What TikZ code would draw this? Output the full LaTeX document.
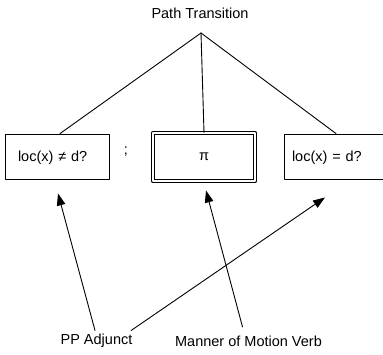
\documentclass[tikz,border=0pt]{standalone}
\usepackage{fontspec}
\setmainfont{Liberation Sans}
\usetikzlibrary{arrows.meta,calc}
\begin{document}
\begin{tikzpicture}[x=1pt,y=-1pt,>={Triangle[length=12pt,width=8.5pt]}, font=\fontsize{14.5}{17}\selectfont, line width=0.9pt, line join=round, line cap=round]
			\tikzset{box/.style={draw, minimum height=45pt, inner ysep=0pt, text height=12pt, text depth=2pt, align=left}}
			\useasboundingbox (0,0) rectangle (383,354);
			% Kopf
			\node (title) at (200,13) {Path Transition};
			\coordinate (apex) at (201,33);
			% Kaesten
			\node[box, inner xsep=13pt, text width=78pt] (lbox) at (57,156.5) {loc(x) ≠ d?};
			\node (semi) at (126,152) {;};
			\node[draw, double, double distance=2.4pt, minimum width=102pt, minimum height=48pt] (mbox) at (204,157) {π};
			\node[box, inner xsep=8pt, text width=90pt] (rbox) at (337,156.5) {loc(x) = d?};
			\draw (apex)--($(lbox.north)+(3,0)$);
			\draw (apex)--(mbox.north);
			\draw (apex)--($(rbox.north)+(-1,0)$);
			% Beschriftungen unten
			\node (pp) at (96.5,341) {PP Adjunct};
			\node (mv) at (248.5,341) {Manner of Motion Verb};
			\draw[->] ($(pp.north)+(-1.5,0)$)--($(lbox.south)+(1,14)$);
			\draw[->] ($(pp.north east)+(-5,0)$)--($(rbox.south)+(-12,18)$);
			\draw[->] ($(mv.north)+(-6,-5)$)--($(mbox.south)+(2,9)$);
		\end{tikzpicture}
\end{document}
